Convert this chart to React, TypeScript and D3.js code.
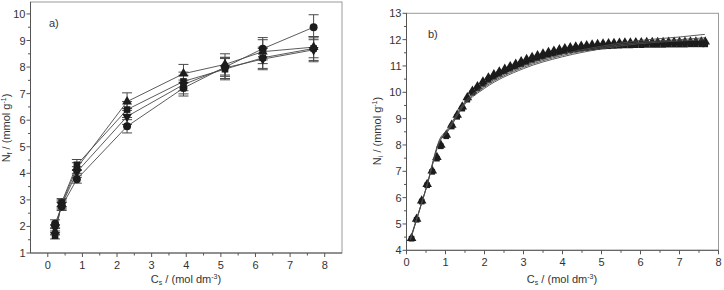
import React from 'react';
import * as d3 from 'd3';

// ---- panel a) data ----
const concA = [0.21, 0.4, 0.84, 2.29, 3.92, 5.12, 6.21, 7.68];
const circleA = [2.1, 2.75, 3.78, 5.77, 7.21, 8.0, 8.69, 9.5];
const squareA = [1.65, 2.9, 4.32, 6.4, 7.46, 7.92, 8.35, 8.7];
const triUpA = [1.8, 2.85, 4.2, 6.7, 7.75, 8.1, 8.58, 8.75];
const triDownA = [1.95, 2.8, 4.05, 6.14, 7.34, 7.97, 8.3, 8.65];
const circleErrA = [0.15, 0.15, 0.15, 0.25, 0.3, 0.35, 0.42, 0.47];
const squareErrA = [0.12, 0.15, 0.2, 0.3, 0.35, 0.4, 0.4, 0.45];
const triUpErrA = [0.12, 0.15, 0.2, 0.33, 0.35, 0.4, 0.45, 0.4];
const triDownErrA = [0.12, 0.15, 0.2, 0.3, 0.35, 0.4, 0.4, 0.45];
const xTicksA = [0, 1, 2, 3, 4, 5, 6, 7, 8];
const yTicksA = [1, 2, 3, 4, 5, 6, 7, 8, 9, 10];

// ---- panel b) data ----
const concB = [
  0.13, 0.26, 0.39, 0.53, 0.66, 0.78, 0.88, 1.02, 1.16, 1.3, 1.43, 1.56, 1.69, 1.82,
  1.96, 2.1, 2.24, 2.38, 2.52, 2.66, 2.8, 2.94, 3.08, 3.22, 3.36, 3.5, 3.64, 3.78,
  3.92, 4.06, 4.2, 4.34, 4.48, 4.62, 4.76, 4.9, 5.04, 5.18, 5.32, 5.46, 5.6, 5.74,
  5.88, 6.02, 6.16, 6.3, 6.44, 6.58, 6.72, 6.86, 7.0, 7.14, 7.28, 7.42, 7.56, 7.66,
];
const triangleB = [
  4.46, 5.19, 5.88, 6.51, 7.02, 7.53, 8.0, 8.38, 8.76, 9.14, 9.45, 9.8, 10.05, 10.22,
  10.4, 10.55, 10.67, 10.78, 10.88, 10.98, 11.07, 11.17, 11.25, 11.33, 11.4, 11.46, 11.52, 11.57,
  11.62, 11.66, 11.7, 11.73, 11.76, 11.78, 11.8, 11.82, 11.84, 11.85, 11.86, 11.87, 11.88, 11.88,
  11.89, 11.89, 11.9, 11.9, 11.9, 11.9, 11.91, 11.91, 11.91, 11.91, 11.92, 11.92, 11.92, 11.92,
];
const squareB = [
  4.44, 5.16, 5.85, 6.47, 6.98, 7.48, 7.95, 8.33, 8.7, 9.07, 9.38, 9.72, 9.98, 10.15,
  10.32, 10.47, 10.59, 10.7, 10.8, 10.9, 10.98, 11.07, 11.15, 11.23, 11.3, 11.36, 11.42, 11.47,
  11.52, 11.56, 11.6, 11.63, 11.66, 11.68, 11.7, 11.72, 11.74, 11.75, 11.76, 11.77, 11.78, 11.78,
  11.79, 11.79, 11.8, 11.8, 11.8, 11.8, 11.81, 11.81, 11.81, 11.81, 11.82, 11.82, 11.82, 11.82,
];
const fitConc = [0.1, 0.5, 0.88, 1.0, 1.5, 2.0, 3.0, 4.0, 5.0, 6.0, 7.0, 7.65];
const fit1 = [4.4, 6.35, 8.3, 8.5, 9.65, 10.25, 11.0, 11.45, 11.75, 11.97, 12.1, 12.2];
const fit2 = [4.4, 6.33, 8.25, 8.45, 9.6, 10.2, 10.95, 11.4, 11.7, 11.9, 12.0, 12.07];
const fit3 = [4.45, 6.33, 8.2, 8.4, 9.55, 10.15, 10.9, 11.35, 11.65, 11.85, 11.95, 12.0];
const xTicksB = [0, 1, 2, 3, 4, 5, 6, 7, 8];
const yTicksB = [4, 5, 6, 7, 8, 9, 10, 11, 12, 13];

const FONT = '"Liberation Sans", Arial, sans-serif';
const TEXT = '#333';
const INK = '#1c1c1c';
const LINE = '#4a4a4a';

type Scale = d3.ScaleLinear<number, number>;

const Frame = ({ x, y, xTicks, yTicks }: { x: Scale; y: Scale; xTicks: number[]; yTicks: number[] }) => {
  const [x0, x1] = x.range();
  const [y0, y1] = y.range();
  const xMinor = xTicks.slice(0, -1).map((t, i) => (t + xTicks[i + 1]) / 2);
  const yMinor = yTicks.slice(0, -1).map((t, i) => (t + yTicks[i + 1]) / 2);
  return (
    <g fontFamily={FONT} fontSize={11} fill={TEXT}>
      <rect x={x0} y={y1} width={x1 - x0} height={y0 - y1} fill="none" stroke="#9a9a9a" strokeWidth={1} />
      <line x1={x0} x2={x1} y1={y0} y2={y0} stroke="#555" />
      <line x1={x0} x2={x0} y1={y0} y2={y1} stroke="#555" />
      {xTicks.map((t) => (
        <g key={'x' + t}>
          <line x1={x(t)} x2={x(t)} y1={y0} y2={y0 + 4} stroke="#555" />
          <text x={x(t)} y={y0 + 16} textAnchor="middle">{t}</text>
        </g>
      ))}
      {xMinor.map((t) => (
        <line key={'xm' + t} x1={x(t)} x2={x(t)} y1={y0} y2={y0 + 2.5} stroke="#555" />
      ))}
      {yTicks.map((t) => (
        <g key={'y' + t}>
          <line x1={x0 - 4} x2={x0} y1={y(t)} y2={y(t)} stroke="#555" />
          <text x={x0 - 5} y={y(t) + 4} textAnchor="end">{t}</text>
        </g>
      ))}
      {yMinor.map((t) => (
        <line key={'ym' + t} x1={x0 - 2.5} x2={x0} y1={y(t)} y2={y(t)} stroke="#555" />
      ))}
    </g>
  );
};

const sym = (type: d3.SymbolType, size: number) => d3.symbol().type(type).size(size)() as string;
const triDown = {
  draw(ctx: d3.Path, size: number) {
    const s = Math.sqrt(size * 4 / Math.sqrt(3));
    const h = (s * Math.sqrt(3)) / 2;
    ctx.moveTo(-s / 2, -h / 3);
    ctx.lineTo(s / 2, -h / 3);
    ctx.lineTo(0, (2 * h) / 3);
    ctx.closePath();
  },
};

const App = () => {
  const xA = d3.scaleLinear().domain([-0.5, 8.5]).range([30.5, 342]);
  const yA = d3.scaleLinear().domain([1, 10.45]).range([253, 2]);
  const xB = d3.scaleLinear().domain([0, 8]).range([406.5, 718.5]);
  const yB = d3.scaleLinear().domain([4, 13]).range([250.3, 13.3]);

  const seriesA = [
    { vals: circleA, err: circleErrA, shape: sym(d3.symbolCircle, 50) },
    { vals: squareA, err: squareErrA, shape: sym(d3.symbolSquare, 44) },
    { vals: triDownA, err: triDownErrA, shape: sym(triDown, 42) },
    { vals: triUpA, err: triUpErrA, shape: sym(d3.symbolTriangle, 42) },
  ];
  const lineA = d3.line<number>().x((_, i) => xA(concA[i])).y((d) => yA(d));
  const lineB = d3.line<number>().x((_, i) => xB(fitConc[i])).y((d) => yB(d)).curve(d3.curveMonotoneX);
  const triB = sym(d3.symbolTriangle, 40);
  const sqB = sym(d3.symbolSquare, 32);

  return (
    <div style={{ position: 'absolute', left: 0, top: 0 }}>
      <svg width={724} height={290} style={{ display: 'block' }}>
        <rect width={724} height={290} fill="#fff" />

        {/* panel a */}
        <Frame x={xA} y={yA} xTicks={xTicksA} yTicks={yTicksA} />
        {seriesA.map((s, k) => (
          <path key={'la' + k} d={lineA(s.vals) || ''} fill="none" stroke={LINE} strokeWidth={0.9} />
        ))}
        {seriesA.map((s, k) => (
          <g key={'ea' + k} stroke={LINE} strokeWidth={1}>
            {s.vals.map((v, i) => {
              const cx = xA(concA[i]);
              const top = yA(v + s.err[i]);
              const bot = yA(v - s.err[i]);
              return (
                <g key={i}>
                  <line x1={cx} x2={cx} y1={top} y2={bot} />
                  <line x1={cx - 5} x2={cx + 5} y1={top} y2={top} />
                  <line x1={cx - 5} x2={cx + 5} y1={bot} y2={bot} />
                </g>
              );
            })}
          </g>
        ))}
        {seriesA.map((s, k) => (
          <g key={'ma' + k} fill={INK}>
            {s.vals.map((v, i) => (
              <path key={i} d={s.shape} transform={`translate(${xA(concA[i])},${yA(v)})`} />
            ))}
          </g>
        ))}
        <text x={49} y={27} fontFamily={FONT} fontSize={11} fill={TEXT}>a)</text>
        <text x={186} y={283} fontFamily={FONT} fontSize={11} fill={TEXT} textAnchor="middle">
          C<tspan fontSize={7} dy={2}>s</tspan><tspan dy={-2}> / (mol dm</tspan>
          <tspan fontSize={7} dy={-4}>-3</tspan><tspan dy={4}>)</tspan>
        </text>
        <text transform="translate(10,128) rotate(-90)" fontFamily={FONT} fontSize={11} fill={TEXT} textAnchor="middle">
          N<tspan fontSize={7} dy={2}>f</tspan><tspan dy={-2}> / (mmol g</tspan>
          <tspan fontSize={7} dy={-4}>-1</tspan><tspan dy={4}>)</tspan>
        </text>

        {/* panel b */}
        <Frame x={xB} y={yB} xTicks={xTicksB} yTicks={yTicksB} />
        <g fill={INK}>
          {squareB.map((v, i) => (
            <path key={'s' + i} d={sqB} transform={`translate(${xB(concB[i])},${yB(v)})`} />
          ))}
          {triangleB.map((v, i) => (
            <path key={'t' + i} d={triB} transform={`translate(${xB(concB[i])},${yB(v)})`} />
          ))}
        </g>
        {[fit1, fit2, fit3].map((f, k) => (
          <path key={'fb' + k} d={lineB(f) || ''} fill="none" stroke={LINE} strokeWidth={0.9} />
        ))}
        <text x={428} y={38} fontFamily={FONT} fontSize={11} fill={TEXT}>b)</text>
        <text x={562} y={283} fontFamily={FONT} fontSize={11} fill={TEXT} textAnchor="middle">
          C<tspan fontSize={7} dy={2}>s</tspan><tspan dy={-2}> / (mol dm</tspan>
          <tspan fontSize={7} dy={-4}>-3</tspan><tspan dy={4}>)</tspan>
        </text>
        <text transform="translate(381,131) rotate(-90)" fontFamily={FONT} fontSize={11} fill={TEXT} textAnchor="middle">
          N<tspan fontSize={7} dy={2}>i</tspan><tspan dy={-2}> / (mmol g</tspan>
          <tspan fontSize={7} dy={-4}>-1</tspan><tspan dy={4}>)</tspan>
        </text>
      </svg>
    </div>
  );
};

export default App;
